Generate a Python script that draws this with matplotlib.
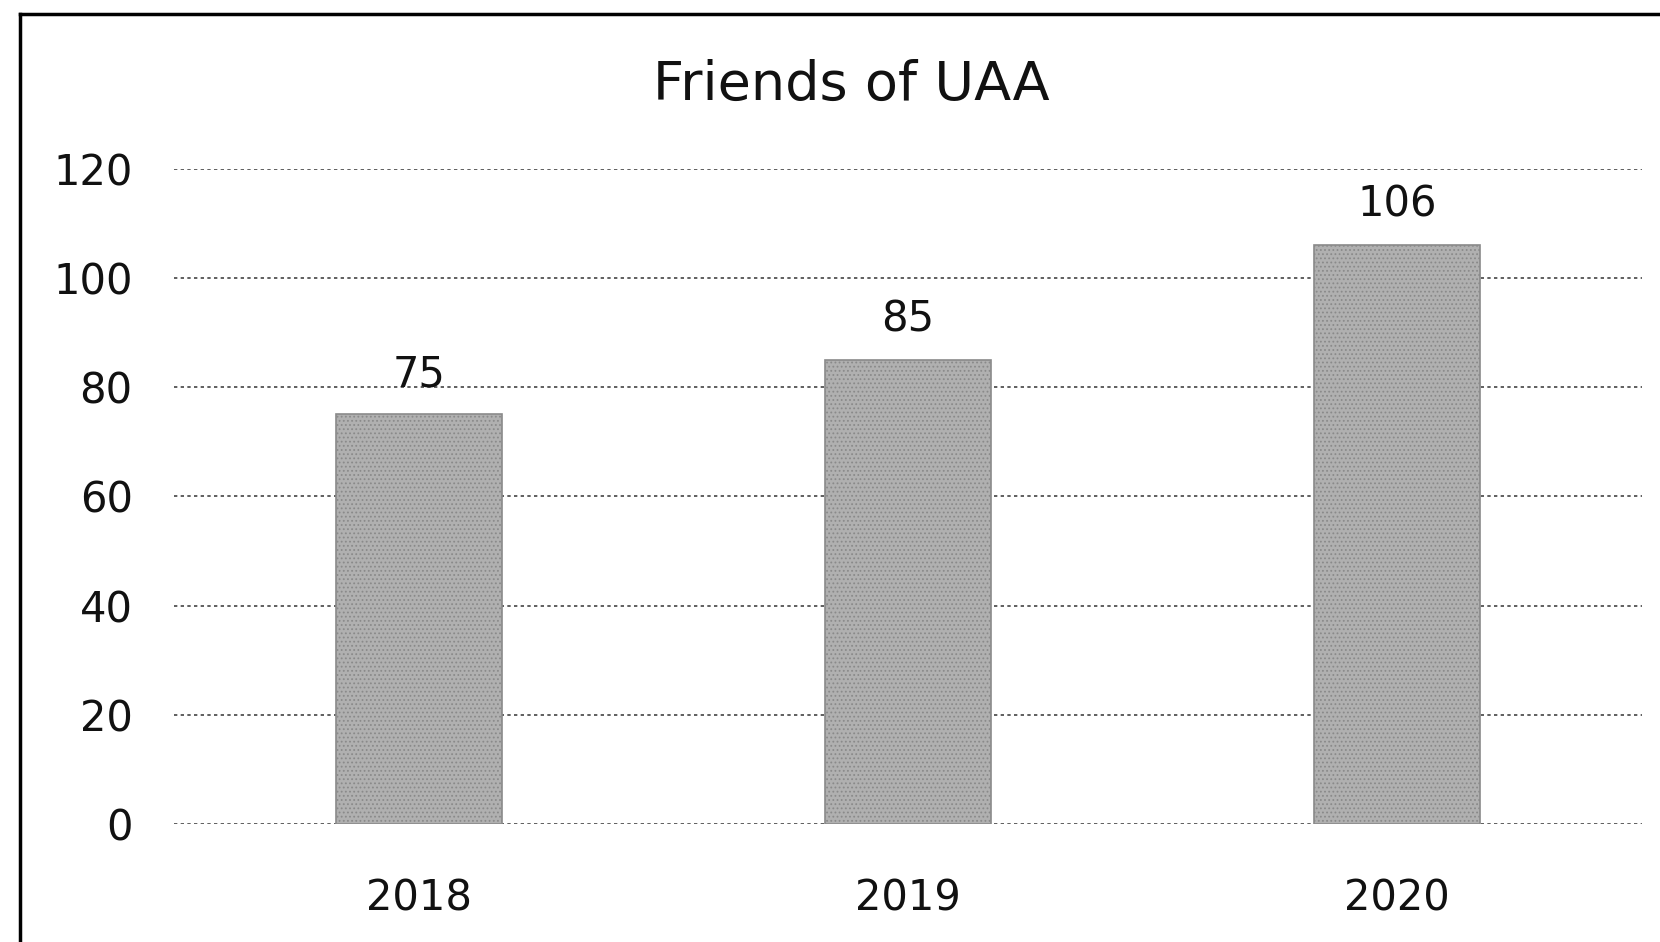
import matplotlib.pyplot as plt
import matplotlib.lines as mlines

years = ['2018', '2019', '2020']
friends = [75, 85, 106]
y_ticks = [0, 20, 40, 60, 80, 100, 120]

plt.rcParams['font.family'] = ['Verdana', 'DejaVu Sans']
plt.rcParams['hatch.color'] = '#555555'
plt.rcParams['hatch.linewidth'] = 0.8

fig = plt.figure(figsize=(16.6, 9.42), dpi=100)
ax = fig.add_axes([0.105, 0.125, 0.884, 0.696])

x = range(len(years))
bars = ax.bar(x, friends, width=0.34, color='#b0b0b0', edgecolor='#8a8a8a',
              hatch='....', linewidth=1.2, zorder=2)

for b, v in zip(bars, friends):
    ax.text(b.get_x() + b.get_width() / 2, v + 3.5, str(v),
            ha='center', va='bottom', fontsize=30, color='#111111')

ax.set_xlim(-0.5, 2.5)
ax.set_ylim(0, 120)
ax.set_yticks(y_ticks)
ax.set_xticks(list(x))
ax.set_xticklabels(years)
ax.tick_params(axis='both', length=0, labelsize=30, colors='#111111')
ax.tick_params(axis='y', pad=30)
ax.tick_params(axis='x', pad=38)
ax.yaxis.grid(True, linestyle=(0, (2, 2)), color='#444444', linewidth=1.2, zorder=0)
ax.set_axisbelow(True)
for s in ax.spines.values():
    s.set_visible(False)

fig.text(0.513, 0.91, 'Friends of UAA', ha='center', va='center',
         fontsize=39, color='#111111')

# scanned page border on left and top
fig.add_artist(mlines.Line2D([0.012, 0.012], [0.0, 0.985], color='black', linewidth=2.5))
fig.add_artist(mlines.Line2D([0.012, 1.0], [0.985, 0.985], color='black', linewidth=2.5))

fig.savefig('out.png', dpi=100)
